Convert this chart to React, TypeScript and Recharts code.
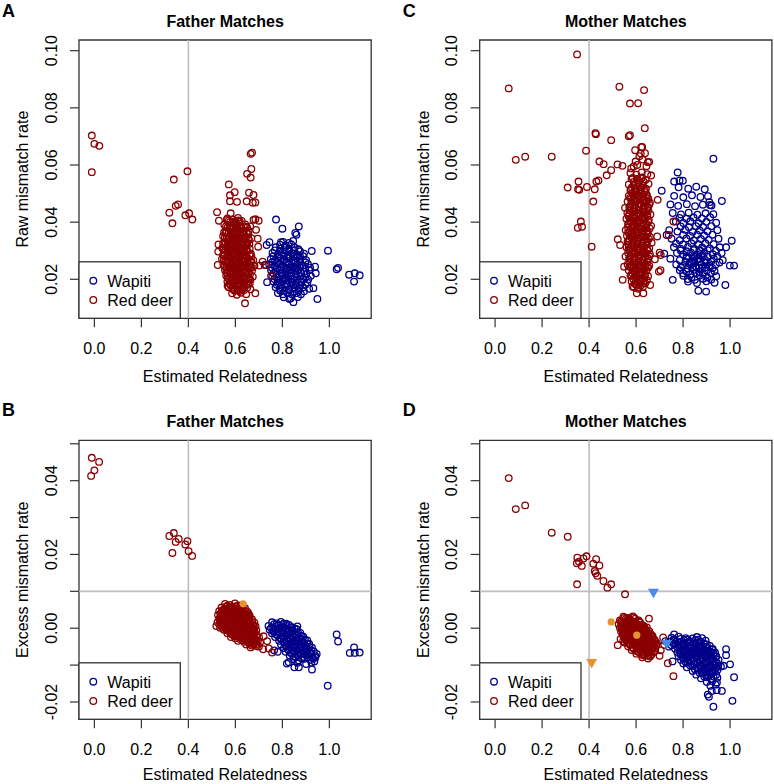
import type { ReactNode } from "react";
import {
  ReferenceArea,
  ReferenceLine,
  Scatter,
  ScatterChart,
  XAxis,
  YAxis,
} from "recharts";

type Pt = [number, number];

const SPECIES = ["Wapiti", "Red deer"];
const COLORS = { wapiti: "#00008B", redDeer: "#8B0000", orange: "#E8912F", blue: "#4A8CEB" };
const X_TICKS = [0, 0.2, 0.4, 0.6, 0.8, 1.0];
const RAW_TICKS = [0.02, 0.04, 0.06, 0.08, 0.1];
const EXCESS_TICKS = [-0.02, -0.01, 0, 0.01, 0.02, 0.03, 0.04, 0.05];
const EXCESS_LABELLED = [-0.02, 0, 0.02, 0.04];
const REF_X = 0.4;
const REF_Y = 0.01;

// A: father matches, raw mismatch rate
const fatherRawWapiti: Pt[] = [
  [0.773, 0.0409], [0.8, 0.0377], [0.87, 0.0385], [0.855, 0.0362], [0.86, 0.0356], [0.925, 0.0299],
  [0.994, 0.03], [1.031, 0.0235], [1.037, 0.024], [1.084, 0.0216], [1.108, 0.0221], [1.129, 0.0214],
  [1.105, 0.0192], [0.949, 0.0131], [0.847, 0.012], [0.83, 0.0131], [0.733, 0.032], [0.745, 0.033],
  [0.794, 0.033], [0.939, 0.0244], [0.942, 0.0221], [0.932, 0.0169], [0.875, 0.028], [0.735, 0.019], [0.725, 0.025],
  [0.803, 0.0331], [0.828, 0.0327], [0.846, 0.0334],
  [0.772, 0.0312], [0.791, 0.0307], [0.811, 0.0313], [0.829, 0.0306], [0.852, 0.0311], [0.868, 0.0305],
  [0.758, 0.0292], [0.781, 0.0287], [0.799, 0.0293], [0.822, 0.0286], [0.841, 0.0291], [0.861, 0.0287], [0.892, 0.029],
  [0.751, 0.0271], [0.769, 0.0266], [0.792, 0.0273], [0.809, 0.0268], [0.831, 0.0274], [0.848, 0.0265], [0.872, 0.0271], [0.901, 0.0267],
  [0.744, 0.0252], [0.766, 0.0247], [0.786, 0.0253], [0.804, 0.0246], [0.826, 0.0251], [0.846, 0.0245], [0.864, 0.0252], [0.887, 0.0248], [0.909, 0.0253],
  [0.752, 0.0232], [0.771, 0.0227], [0.789, 0.0233], [0.812, 0.0226], [0.829, 0.0231], [0.851, 0.0228], [0.869, 0.0234], [0.892, 0.0227], [0.914, 0.0232],
  [0.757, 0.0211], [0.774, 0.0207], [0.797, 0.0213], [0.814, 0.0206], [0.836, 0.0212], [0.853, 0.0207], [0.877, 0.0211], [0.898, 0.0206], [0.921, 0.0212],
  [0.762, 0.0192], [0.781, 0.0187], [0.801, 0.0193], [0.819, 0.0186], [0.841, 0.0191], [0.859, 0.0187], [0.882, 0.0192], [0.906, 0.0188],
  [0.771, 0.0172], [0.789, 0.0167], [0.812, 0.0173], [0.829, 0.0166], [0.851, 0.0171], [0.871, 0.0168], [0.888, 0.0172], [0.914, 0.0167],
  [0.781, 0.0152], [0.802, 0.0148], [0.821, 0.0153], [0.842, 0.0147], [0.861, 0.0152], [0.879, 0.0148],
  [0.806, 0.0137], [0.836, 0.0134], [0.866, 0.0138],
  [0.82, 0.024], [0.835, 0.022], [0.81, 0.02], [0.845, 0.018], [0.825, 0.028], [0.86, 0.024],
];
const fatherRawWapitiDense: Pt[] = [
  [0.79, 0.0321], [0.815, 0.0318], [0.838, 0.0322],
  [0.768, 0.0301], [0.79, 0.0298], [0.81, 0.0302], [0.83, 0.0297], [0.85, 0.0301], [0.875, 0.0298],
  [0.762, 0.0281], [0.785, 0.0278], [0.805, 0.0282], [0.828, 0.0277], [0.846, 0.0281], [0.866, 0.0278], [0.888, 0.0281],
  [0.758, 0.0261], [0.778, 0.0258], [0.798, 0.0262], [0.818, 0.0257], [0.838, 0.0261], [0.856, 0.0258], [0.876, 0.0262], [0.898, 0.0259],
  [0.755, 0.0241], [0.776, 0.0238], [0.795, 0.0242], [0.815, 0.0237], [0.836, 0.0241], [0.855, 0.0238], [0.875, 0.0242], [0.898, 0.0239], [0.918, 0.0241],
  [0.762, 0.0221], [0.78, 0.0218], [0.8, 0.0222], [0.82, 0.0217], [0.84, 0.0221], [0.86, 0.0218], [0.88, 0.0222], [0.902, 0.0219],
  [0.766, 0.0201], [0.786, 0.0198], [0.806, 0.0202], [0.826, 0.0197], [0.846, 0.0201], [0.866, 0.0198], [0.888, 0.0202], [0.91, 0.0199],
  [0.776, 0.0181], [0.796, 0.0178], [0.816, 0.0182], [0.836, 0.0177], [0.856, 0.0181], [0.876, 0.0178], [0.898, 0.0181],
  [0.79, 0.0161], [0.81, 0.0158], [0.83, 0.0162], [0.85, 0.0157], [0.87, 0.0161], [0.892, 0.0158],
];

const fatherRawRedDeer: Pt[] = [
  [-0.011, 0.0703], [0.0, 0.0674], [0.021, 0.0667], [-0.011, 0.0575],
  [0.396, 0.0578], [0.338, 0.0549], [0.346, 0.0457], [0.356, 0.0462], [0.319, 0.0433], [0.332, 0.0396],
  [0.387, 0.0424], [0.403, 0.0431], [0.417, 0.0409],
  [0.665, 0.0639], [0.671, 0.0643], [0.668, 0.0586], [0.65, 0.0569], [0.665, 0.0556], [0.572, 0.0532],
  [0.597, 0.0505], [0.577, 0.0494], [0.577, 0.0473], [0.607, 0.0471], [0.658, 0.0503], [0.677, 0.0495],
  [0.648, 0.0473], [0.674, 0.0468], [0.685, 0.0469], [0.522, 0.0435], [0.58, 0.0431], [0.677, 0.0408],
  [0.685, 0.041], [0.699, 0.0405], [0.53, 0.0405], [0.563, 0.0408], [0.688, 0.0373], [0.695, 0.0342],
  [0.697, 0.0314], [0.528, 0.0322], [0.527, 0.0297], [0.525, 0.025], [0.685, 0.0151], [0.641, 0.0116],
  [0.567, 0.0177], [0.702, 0.0248], [0.731, 0.025], [0.752, 0.0212], [0.716, 0.0262],
  [0.566, 0.0413], [0.589, 0.0409], [0.611, 0.0415], [0.627, 0.0404],
  [0.553, 0.0391], [0.576, 0.0386], [0.601, 0.0394], [0.619, 0.0388], [0.642, 0.0392], [0.663, 0.0385],
  [0.561, 0.0368], [0.582, 0.0373], [0.594, 0.0366], [0.616, 0.0371], [0.633, 0.0364], [0.657, 0.0369],
  [0.548, 0.0351], [0.571, 0.0347], [0.589, 0.0354], [0.606, 0.0345], [0.624, 0.0352], [0.646, 0.0348], [0.668, 0.0344],
  [0.556, 0.0331], [0.574, 0.0326], [0.597, 0.0334], [0.611, 0.0328], [0.631, 0.0333], [0.651, 0.0327],
  [0.544, 0.0309], [0.566, 0.0314], [0.581, 0.0306], [0.602, 0.0311], [0.619, 0.0305], [0.641, 0.0312], [0.661, 0.0307],
  [0.551, 0.0292], [0.569, 0.0287], [0.591, 0.0294], [0.604, 0.0286], [0.626, 0.0291], [0.644, 0.0285], [0.666, 0.0289],
  [0.543, 0.0271], [0.561, 0.0266], [0.579, 0.0273], [0.601, 0.0268], [0.614, 0.0274], [0.636, 0.0265], [0.654, 0.0272], [0.676, 0.0267],
  [0.549, 0.0251], [0.571, 0.0246], [0.586, 0.0253], [0.604, 0.0248], [0.621, 0.0254], [0.639, 0.0245], [0.659, 0.0251], [0.681, 0.0247],
  [0.556, 0.0232], [0.574, 0.0227], [0.596, 0.0234], [0.609, 0.0228], [0.631, 0.0233], [0.649, 0.0226], [0.671, 0.0231],
  [0.561, 0.0212], [0.579, 0.0207], [0.601, 0.0213], [0.616, 0.0206], [0.634, 0.0211], [0.656, 0.0205], [0.674, 0.0209],
  [0.566, 0.0192], [0.586, 0.0187], [0.599, 0.0193], [0.621, 0.0186], [0.639, 0.0191], [0.661, 0.0185],
  [0.571, 0.0172], [0.591, 0.0167], [0.611, 0.0173], [0.629, 0.0166], [0.651, 0.0171], [0.664, 0.0165],
  [0.586, 0.0151], [0.606, 0.0146], [0.624, 0.0153], [0.646, 0.0148],
  [0.58, 0.03], [0.61, 0.022], [0.595, 0.028], [0.62, 0.03], [0.585, 0.024], [0.6, 0.036], [0.63, 0.025],
  [0.575, 0.032], [0.64, 0.02], [0.61, 0.018],
];
const fatherRawRedDeerDense: Pt[] = [
  [0.578, 0.0401], [0.6, 0.0398], [0.618, 0.0402],
  [0.566, 0.0381], [0.588, 0.0378], [0.608, 0.0382], [0.628, 0.0377], [0.65, 0.0381],
  [0.558, 0.0361], [0.58, 0.0358], [0.598, 0.0362], [0.615, 0.0357], [0.636, 0.0361], [0.655, 0.0358],
  [0.562, 0.0341], [0.582, 0.0338], [0.6, 0.0342], [0.618, 0.0337], [0.638, 0.0341], [0.658, 0.0338],
  [0.553, 0.0321], [0.572, 0.0318], [0.59, 0.0322], [0.61, 0.0317], [0.628, 0.0321], [0.648, 0.0318],
  [0.556, 0.0301], [0.575, 0.0298], [0.593, 0.0302], [0.612, 0.0297], [0.632, 0.0301], [0.652, 0.0298],
  [0.553, 0.0281], [0.572, 0.0278], [0.59, 0.0282], [0.61, 0.0277], [0.628, 0.0281], [0.648, 0.0278], [0.668, 0.0281],
  [0.556, 0.0261], [0.574, 0.0258], [0.594, 0.0262], [0.611, 0.0257], [0.63, 0.0261], [0.65, 0.0258], [0.668, 0.0262],
  [0.562, 0.0241], [0.578, 0.0238], [0.596, 0.0242], [0.614, 0.0237], [0.632, 0.0241], [0.652, 0.0238], [0.67, 0.0241],
  [0.566, 0.0221], [0.586, 0.0218], [0.604, 0.0222], [0.622, 0.0217], [0.642, 0.0221], [0.662, 0.0218],
  [0.572, 0.0201], [0.59, 0.0198], [0.608, 0.0202], [0.626, 0.0197], [0.646, 0.0201], [0.664, 0.0198],
  [0.578, 0.0181], [0.596, 0.0178], [0.616, 0.0182], [0.634, 0.0177], [0.654, 0.0181],
  [0.596, 0.0161], [0.616, 0.0158], [0.636, 0.0162],
];
const fatherRawRedDeerCore: Pt[] = [
  [0.572, 0.0405], [0.594, 0.0402], [0.612, 0.0406],
  [0.56, 0.0385], [0.582, 0.0382], [0.604, 0.0386], [0.624, 0.0381], [0.645, 0.0384],
  [0.552, 0.0365], [0.572, 0.0362], [0.59, 0.0366], [0.608, 0.0361], [0.628, 0.0365], [0.648, 0.0362],
  [0.555, 0.0345], [0.576, 0.0342], [0.594, 0.0346], [0.614, 0.0341], [0.634, 0.0345], [0.654, 0.0342],
  [0.548, 0.0325], [0.566, 0.0322], [0.584, 0.0326], [0.604, 0.0321], [0.622, 0.0325], [0.642, 0.0322], [0.66, 0.0324],
  [0.55, 0.0305], [0.57, 0.0302], [0.588, 0.0306], [0.606, 0.0301], [0.626, 0.0305], [0.646, 0.0302],
  [0.548, 0.0285], [0.566, 0.0282], [0.584, 0.0286], [0.602, 0.0281], [0.622, 0.0285], [0.64, 0.0282], [0.66, 0.0285],
  [0.55, 0.0265], [0.568, 0.0262], [0.588, 0.0266], [0.606, 0.0261], [0.624, 0.0265], [0.644, 0.0262], [0.662, 0.0265],
  [0.556, 0.0245], [0.574, 0.0242], [0.592, 0.0246], [0.61, 0.0241], [0.628, 0.0245], [0.646, 0.0242], [0.664, 0.0245],
  [0.562, 0.0225], [0.58, 0.0222], [0.6, 0.0226], [0.618, 0.0221], [0.636, 0.0225], [0.656, 0.0222],
  [0.568, 0.0205], [0.586, 0.0202], [0.604, 0.0206], [0.622, 0.0201], [0.64, 0.0205], [0.658, 0.0202],
  [0.576, 0.0185], [0.594, 0.0182], [0.612, 0.0186], [0.63, 0.0181], [0.648, 0.0185],
  [0.59, 0.0165], [0.61, 0.0162], [0.628, 0.0166],
];

// C: mother matches, raw mismatch rate
const motherRawWapiti: Pt[] = [
  [0.929, 0.0622], [0.98, 0.018], [0.865, 0.016], [0.898, 0.0157], [0.777, 0.0574], [0.762, 0.0542],
  [0.785, 0.0546], [0.799, 0.0545], [0.892, 0.0515], [0.965, 0.0474], [0.912, 0.047], [0.914, 0.046],
  [1.007, 0.0335], [0.999, 0.0248], [1.017, 0.0248], [0.983, 0.0312], [0.756, 0.0198], [0.709, 0.051],
  [0.73, 0.0355], [0.72, 0.029],
  [0.781, 0.0522], [0.822, 0.0517], [0.856, 0.0524],
  [0.762, 0.0492], [0.801, 0.0487], [0.838, 0.0494], [0.874, 0.0488], [0.906, 0.0491],
  [0.746, 0.0462], [0.779, 0.0457], [0.816, 0.0463], [0.851, 0.0456], [0.884, 0.0461], [0.921, 0.0458],
  [0.756, 0.0432], [0.791, 0.0427], [0.824, 0.0433], [0.861, 0.0426], [0.896, 0.0431], [0.929, 0.0428],
  [0.769, 0.0402], [0.801, 0.0397], [0.831, 0.0403], [0.866, 0.0396], [0.899, 0.0401], [0.941, 0.0398],
  [0.741, 0.0372], [0.776, 0.0367], [0.809, 0.0373], [0.841, 0.0366], [0.871, 0.0371], [0.904, 0.0368], [0.946, 0.0372],
  [0.751, 0.0342], [0.786, 0.0337], [0.814, 0.0343], [0.846, 0.0336], [0.876, 0.0341], [0.909, 0.0338], [0.951, 0.0342],
  [0.761, 0.0312], [0.789, 0.0307], [0.821, 0.0313], [0.849, 0.0306], [0.881, 0.0311], [0.914, 0.0308], [0.956, 0.0312],
  [0.774, 0.0292], [0.801, 0.0287], [0.834, 0.0293], [0.861, 0.0286], [0.889, 0.0291], [0.926, 0.0288], [0.964, 0.0292],
  [0.746, 0.0272], [0.786, 0.0267], [0.814, 0.0273], [0.841, 0.0266], [0.866, 0.0271], [0.894, 0.0268], [0.931, 0.0272], [0.969, 0.0267],
  [0.771, 0.0252], [0.799, 0.0247], [0.831, 0.0253], [0.854, 0.0246], [0.879, 0.0251], [0.911, 0.0248], [0.939, 0.0252],
  [0.786, 0.0232], [0.814, 0.0227], [0.846, 0.0233], [0.869, 0.0226], [0.901, 0.0231], [0.934, 0.0228],
  [0.801, 0.0212], [0.836, 0.0207], [0.871, 0.0213], [0.904, 0.0206], [0.941, 0.0211],
  [0.821, 0.0192], [0.859, 0.0187], [0.899, 0.0193], [0.934, 0.0188],
  [0.845, 0.028], [0.871, 0.0262], [0.856, 0.0242], [0.884, 0.0279], [0.901, 0.0259], [0.869, 0.0301],
  [0.836, 0.0259], [0.881, 0.0239], [0.861, 0.0272],
];
const motherRawWapitiDense: Pt[] = [
  [0.785, 0.0415], [0.815, 0.0412], [0.845, 0.0416], [0.88, 0.0413], [0.915, 0.0417],
  [0.79, 0.0385], [0.825, 0.0382], [0.855, 0.0386], [0.885, 0.0383], [0.92, 0.0386],
  [0.8, 0.0355], [0.83, 0.0352], [0.86, 0.0356], [0.89, 0.0353], [0.925, 0.0356],
  [0.77, 0.0325], [0.8, 0.0322], [0.835, 0.0326], [0.865, 0.0323], [0.895, 0.0326], [0.93, 0.0323],
  [0.79, 0.0301], [0.815, 0.0298], [0.845, 0.0302], [0.875, 0.0299], [0.905, 0.0302], [0.94, 0.0299],
  [0.815, 0.0281], [0.85, 0.0278], [0.876, 0.0282], [0.905, 0.0279], [0.945, 0.0281],
  [0.81, 0.0261], [0.828, 0.0258], [0.848, 0.0262], [0.89, 0.0259], [0.92, 0.0262], [0.955, 0.0259],
  [0.79, 0.0241], [0.82, 0.0238], [0.84, 0.0242], [0.868, 0.0239], [0.895, 0.0242], [0.925, 0.0239],
  [0.8, 0.0221], [0.83, 0.0218], [0.858, 0.0222], [0.885, 0.0219], [0.918, 0.0222],
  [0.82, 0.0201], [0.85, 0.0198], [0.885, 0.0202], [0.92, 0.0199],
];

const motherRawRedDeer: Pt[] = [
  [0.349, 0.0987], [0.058, 0.0868], [0.088, 0.0618], [0.128, 0.0629], [0.241, 0.0629], [0.387, 0.065],
  [0.309, 0.0521], [0.355, 0.0542], [0.353, 0.0515], [0.358, 0.0513], [0.391, 0.0523], [0.365, 0.0402],
  [0.37, 0.0384], [0.352, 0.038], [0.411, 0.0314], [0.427, 0.0711], [0.429, 0.0708], [0.444, 0.0612],
  [0.462, 0.0603], [0.431, 0.0542], [0.44, 0.0546], [0.424, 0.0515], [0.418, 0.0472], [0.494, 0.0687],
  [0.475, 0.0564], [0.494, 0.0582], [0.529, 0.0874], [0.634, 0.0862], [0.574, 0.0815], [0.609, 0.0816],
  [0.637, 0.0729], [0.569, 0.0701], [0.574, 0.0704], [0.521, 0.0602], [0.542, 0.0597], [0.596, 0.0652],
  [0.626, 0.0663], [0.638, 0.0641], [0.664, 0.0563], [0.645, 0.0473], [0.692, 0.0478], [0.522, 0.034],
  [0.532, 0.032], [0.549, 0.0244], [0.543, 0.0198], [0.7, 0.0293], [0.705, 0.0285], [0.697, 0.0227],
  [0.704, 0.0232], [0.759, 0.0402], [0.739, 0.0355], [0.603, 0.0151], [0.631, 0.0151], [0.585, 0.0175],
  [0.66, 0.018], [0.69, 0.035], [0.68, 0.027], [0.555, 0.028], [0.553, 0.045], [0.62, 0.064], [0.65, 0.061], [0.605, 0.06],
  [0.576, 0.0572], [0.601, 0.0566], [0.624, 0.0574], [0.648, 0.0568],
  [0.581, 0.0551], [0.604, 0.0547], [0.621, 0.0554], [0.641, 0.0548],
  [0.569, 0.0532], [0.591, 0.0527], [0.611, 0.0533], [0.629, 0.0528], [0.653, 0.0534],
  [0.576, 0.0512], [0.594, 0.0507], [0.616, 0.0513], [0.636, 0.0506],
  [0.569, 0.0492], [0.589, 0.0487], [0.609, 0.0493], [0.626, 0.0486], [0.646, 0.0491],
  [0.564, 0.0472], [0.581, 0.0467], [0.601, 0.0473], [0.619, 0.0466], [0.641, 0.0471], [0.659, 0.0468],
  [0.571, 0.0452], [0.589, 0.0447], [0.611, 0.0453], [0.629, 0.0446], [0.651, 0.0451],
  [0.563, 0.0432], [0.586, 0.0427], [0.604, 0.0433], [0.621, 0.0426], [0.639, 0.0431], [0.661, 0.0427],
  [0.559, 0.0412], [0.576, 0.0407], [0.594, 0.0413], [0.614, 0.0406], [0.636, 0.0411], [0.654, 0.0408],
  [0.566, 0.0392], [0.584, 0.0387], [0.601, 0.0393], [0.621, 0.0386], [0.639, 0.0391], [0.664, 0.0387],
  [0.556, 0.0372], [0.574, 0.0367], [0.596, 0.0373], [0.609, 0.0366], [0.631, 0.0371], [0.649, 0.0368],
  [0.561, 0.0352], [0.579, 0.0347], [0.601, 0.0353], [0.619, 0.0346], [0.641, 0.0351], [0.659, 0.0348],
  [0.564, 0.0332], [0.586, 0.0327], [0.604, 0.0333], [0.626, 0.0326], [0.644, 0.0331], [0.666, 0.0328],
  [0.559, 0.0312], [0.576, 0.0307], [0.594, 0.0313], [0.616, 0.0306], [0.634, 0.0311], [0.656, 0.0308],
  [0.566, 0.0292], [0.584, 0.0287], [0.606, 0.0293], [0.619, 0.0286], [0.641, 0.0291], [0.659, 0.0288],
  [0.571, 0.0272], [0.589, 0.0267], [0.611, 0.0273], [0.629, 0.0266], [0.651, 0.0271],
  [0.564, 0.0252], [0.581, 0.0247], [0.599, 0.0253], [0.621, 0.0246], [0.639, 0.0251], [0.656, 0.0248],
  [0.569, 0.0232], [0.591, 0.0227], [0.609, 0.0233], [0.626, 0.0226], [0.644, 0.0231],
  [0.576, 0.0212], [0.594, 0.0207], [0.616, 0.0213], [0.634, 0.0206], [0.651, 0.0211],
  [0.581, 0.0192], [0.599, 0.0187], [0.621, 0.0193], [0.639, 0.0186],
  [0.591, 0.0172], [0.609, 0.0167], [0.629, 0.0173],
  [0.579, 0.0588], [0.598, 0.0612], [0.628, 0.0619], [0.644, 0.0596], [0.656, 0.0611], [0.614, 0.0631],
  [0.622, 0.0662], [0.59, 0.0595],
];
const motherRawRedDeerDense: Pt[] = [
  [0.59, 0.0541], [0.612, 0.0538], [0.632, 0.0542],
  [0.582, 0.0521], [0.602, 0.0518], [0.622, 0.0522], [0.642, 0.0517],
  [0.584, 0.0501], [0.604, 0.0498], [0.624, 0.0502], [0.645, 0.0497],
  [0.578, 0.0481], [0.598, 0.0478], [0.616, 0.0482], [0.634, 0.0477], [0.652, 0.0481],
  [0.578, 0.0461], [0.596, 0.0458], [0.618, 0.0462], [0.638, 0.0457], [0.656, 0.0461],
  [0.574, 0.0441], [0.594, 0.0438], [0.614, 0.0442], [0.632, 0.0437], [0.652, 0.0441],
  [0.568, 0.0421], [0.586, 0.0418], [0.604, 0.0422], [0.626, 0.0417], [0.646, 0.0421],
  [0.574, 0.0401], [0.592, 0.0398], [0.61, 0.0402], [0.63, 0.0397], [0.652, 0.0401],
  [0.566, 0.0381], [0.586, 0.0378], [0.604, 0.0382], [0.62, 0.0377], [0.642, 0.0381], [0.658, 0.0378],
  [0.57, 0.0361], [0.59, 0.0358], [0.61, 0.0362], [0.63, 0.0357], [0.65, 0.0361],
  [0.572, 0.0341], [0.592, 0.0338], [0.612, 0.0342], [0.634, 0.0337], [0.654, 0.0341],
  [0.568, 0.0321], [0.586, 0.0318], [0.606, 0.0322], [0.626, 0.0317], [0.646, 0.0321],
  [0.572, 0.0301], [0.594, 0.0298], [0.612, 0.0302], [0.632, 0.0297], [0.65, 0.0301],
  [0.576, 0.0281], [0.598, 0.0278], [0.618, 0.0282], [0.638, 0.0277], [0.656, 0.0281],
  [0.574, 0.0261], [0.592, 0.0258], [0.61, 0.0262], [0.63, 0.0257], [0.648, 0.0261],
  [0.578, 0.0241], [0.598, 0.0238], [0.616, 0.0242], [0.634, 0.0237], [0.652, 0.0241],
  [0.584, 0.0221], [0.602, 0.0218], [0.62, 0.0222], [0.638, 0.0217],
  [0.588, 0.0201], [0.608, 0.0198], [0.628, 0.0202], [0.646, 0.0197],
  [0.6, 0.0181], [0.62, 0.0178],
];
const motherRawRedDeerCore: Pt[] = [
  [0.586, 0.0555], [0.606, 0.0552], [0.626, 0.0556],
  [0.578, 0.0515], [0.598, 0.0512], [0.618, 0.0516], [0.638, 0.0511],
  [0.574, 0.0485], [0.594, 0.0482], [0.612, 0.0486], [0.632, 0.0481], [0.65, 0.0484],
  [0.574, 0.0455], [0.592, 0.0452], [0.612, 0.0456], [0.632, 0.0451], [0.65, 0.0454],
  [0.57, 0.0425], [0.59, 0.0422], [0.61, 0.0426], [0.63, 0.0421], [0.648, 0.0424],
  [0.568, 0.0395], [0.588, 0.0392], [0.606, 0.0396], [0.626, 0.0391], [0.646, 0.0394],
  [0.566, 0.0365], [0.584, 0.0362], [0.604, 0.0366], [0.624, 0.0361], [0.644, 0.0364],
  [0.568, 0.0335], [0.588, 0.0332], [0.608, 0.0336], [0.628, 0.0331], [0.648, 0.0334],
  [0.568, 0.0305], [0.588, 0.0302], [0.608, 0.0306], [0.628, 0.0301], [0.646, 0.0304],
  [0.572, 0.0275], [0.592, 0.0272], [0.612, 0.0276], [0.632, 0.0271], [0.65, 0.0274],
  [0.572, 0.0245], [0.592, 0.0242], [0.612, 0.0246], [0.63, 0.0241], [0.646, 0.0244],
  [0.58, 0.0215], [0.6, 0.0212], [0.62, 0.0216], [0.638, 0.0211],
  [0.594, 0.0185], [0.614, 0.0182], [0.632, 0.0186],
];

// B: father matches, excess mismatch rate
const fatherExcessWapiti: Pt[] = [
  [1.031, -0.0017], [1.037, -0.0036], [1.105, -0.0052], [1.087, -0.0067], [1.108, -0.0067], [1.129, -0.0066],
  [0.993, -0.0156], [0.926, -0.0112], [0.851, -0.0106], [0.87, -0.0106], [0.827, -0.0092], [0.946, -0.007],
  [0.936, -0.009], [0.94, -0.008], [0.78, -0.0064], [0.765, -0.006],
  [0.756, 0.0016], [0.776, 0.0013], [0.794, 0.0017], [0.816, 0.0012],
  [0.741, 0.0006], [0.761, 0.0003], [0.779, 0.0007], [0.801, 0.0002], [0.819, 0.0006], [0.841, 0.0003], [0.864, 0.0005],
  [0.746, -0.0004], [0.764, -0.0007], [0.786, -0.0003], [0.804, -0.0008], [0.826, -0.0004], [0.844, -0.0007], [0.861, -0.0003],
  [0.756, -0.0014], [0.774, -0.0017], [0.796, -0.0013], [0.814, -0.0018], [0.836, -0.0014], [0.854, -0.0017], [0.876, -0.0013],
  [0.769, -0.0024], [0.791, -0.0027], [0.809, -0.0023], [0.831, -0.0028], [0.849, -0.0024], [0.871, -0.0027], [0.889, -0.0023],
  [0.786, -0.0034], [0.804, -0.0037], [0.826, -0.0033], [0.844, -0.0038], [0.866, -0.0034], [0.884, -0.0037], [0.906, -0.0033],
  [0.794, -0.0044], [0.816, -0.0047], [0.834, -0.0043], [0.856, -0.0048], [0.874, -0.0044], [0.896, -0.0047], [0.914, -0.0043],
  [0.806, -0.0054], [0.824, -0.0057], [0.846, -0.0053], [0.864, -0.0058], [0.886, -0.0054], [0.904, -0.0057], [0.926, -0.0053],
  [0.814, -0.0064], [0.836, -0.0067], [0.854, -0.0063], [0.876, -0.0068], [0.894, -0.0064], [0.916, -0.0067], [0.934, -0.0063],
  [0.831, -0.0074], [0.849, -0.0077], [0.871, -0.0073], [0.889, -0.0078], [0.911, -0.0074], [0.941, -0.0076],
  [0.846, -0.0084], [0.869, -0.0087], [0.894, -0.0083], [0.921, -0.0086],
  [0.819, -0.0096], [0.864, -0.0094], [0.901, -0.0097], [0.924, -0.0094],
];
const fatherExcessWapitiDense: Pt[] = [
  [0.765, 0.0011], [0.785, 0.0009], [0.805, 0.0012], [0.828, 0.0009],
  [0.752, 0.0001], [0.772, -0.0002], [0.795, 0.0001], [0.815, -0.0001], [0.835, 0.0002], [0.852, -0.0001],
  [0.762, -0.0009], [0.78, -0.0012], [0.8, -0.0009], [0.82, -0.0011], [0.84, -0.0008], [0.866, -0.0011],
  [0.78, -0.0019], [0.8, -0.0022], [0.822, -0.0019], [0.842, -0.0021], [0.862, -0.0018], [0.882, -0.0021],
  [0.796, -0.0029], [0.816, -0.0032], [0.836, -0.0029], [0.856, -0.0031], [0.876, -0.0028], [0.896, -0.0031],
  [0.81, -0.0039], [0.826, -0.0042], [0.846, -0.0039], [0.866, -0.0041], [0.886, -0.0038], [0.906, -0.0041],
  [0.816, -0.0049], [0.836, -0.0052], [0.856, -0.0049], [0.876, -0.0051], [0.896, -0.0048], [0.916, -0.0051],
  [0.826, -0.0059], [0.846, -0.0062], [0.866, -0.0059], [0.886, -0.0061], [0.906, -0.0058], [0.924, -0.0061],
  [0.842, -0.0069], [0.862, -0.0072], [0.882, -0.0069], [0.9, -0.0071], [0.922, -0.0068],
  [0.858, -0.0079], [0.882, -0.0082], [0.906, -0.0079], [0.93, -0.0081],
];

const fatherExcessRedDeer: Pt[] = [
  [-0.011, 0.0462], [0.02, 0.0451], [0.0, 0.0428], [-0.014, 0.0413], [0.319, 0.025], [0.338, 0.0258],
  [0.346, 0.0234], [0.359, 0.0242], [0.332, 0.0204], [0.387, 0.0227], [0.396, 0.0236], [0.401, 0.0209], [0.416, 0.0196],
  [0.7, -0.005], [0.718, -0.0057], [0.742, -0.0055], [0.756, -0.0066], [0.688, -0.0048], [0.705, -0.0038],
  [0.665, -0.0052], [0.72, -0.0022], [0.735, -0.0035],
  [0.556, 0.0066], [0.577, 0.0063], [0.598, 0.0067], [0.621, 0.0062],
  [0.541, 0.0056], [0.562, 0.0053], [0.581, 0.0057], [0.601, 0.0052], [0.619, 0.0056], [0.641, 0.0054],
  [0.531, 0.0046], [0.549, 0.0043], [0.571, 0.0047], [0.589, 0.0042], [0.611, 0.0046], [0.629, 0.0043], [0.651, 0.0045],
  [0.526, 0.0036], [0.546, 0.0033], [0.564, 0.0037], [0.586, 0.0032], [0.604, 0.0036], [0.626, 0.0033], [0.644, 0.0037], [0.661, 0.0034],
  [0.531, 0.0026], [0.551, 0.0023], [0.569, 0.0027], [0.591, 0.0022], [0.609, 0.0026], [0.631, 0.0023], [0.649, 0.0027], [0.671, 0.0024],
  [0.524, 0.0016], [0.546, 0.0013], [0.566, 0.0017], [0.584, 0.0012], [0.606, 0.0016], [0.624, 0.0013], [0.646, 0.0017], [0.664, 0.0014], [0.681, 0.0015],
  [0.519, 0.0006], [0.544, 0.0003], [0.566, 0.0007], [0.586, 0.0002], [0.604, 0.0006], [0.626, 0.0003], [0.644, 0.0007], [0.666, 0.0004], [0.686, 0.0005],
  [0.551, -0.0004], [0.569, -0.0007], [0.591, -0.0003], [0.609, -0.0008], [0.631, -0.0004], [0.649, -0.0007], [0.671, -0.0003], [0.689, -0.0006],
  [0.566, -0.0014], [0.586, -0.0017], [0.604, -0.0013], [0.626, -0.0018], [0.644, -0.0014], [0.666, -0.0017], [0.684, -0.0013],
  [0.581, -0.0024], [0.599, -0.0027], [0.621, -0.0023], [0.639, -0.0028], [0.661, -0.0024], [0.679, -0.0027], [0.701, -0.0025],
  [0.611, -0.0034], [0.636, -0.0037], [0.654, -0.0033], [0.676, -0.0036], [0.696, -0.0034],
  [0.646, -0.0044], [0.669, -0.0047], [0.691, -0.0043],
];
const fatherExcessRedDeerDense: Pt[] = [
  [0.566, 0.0061], [0.588, 0.0058], [0.61, 0.0061], [0.63, 0.0058],
  [0.55, 0.0051], [0.572, 0.0049], [0.592, 0.0051], [0.61, 0.0048], [0.63, 0.0051],
  [0.538, 0.0041], [0.558, 0.0038], [0.578, 0.0041], [0.598, 0.0039], [0.618, 0.0041], [0.638, 0.0038], [0.655, 0.0041],
  [0.536, 0.0031], [0.556, 0.0028], [0.576, 0.0031], [0.596, 0.0029], [0.616, 0.0031], [0.636, 0.0028], [0.656, 0.0031],
  [0.536, 0.0021], [0.558, 0.0018], [0.578, 0.0021], [0.598, 0.0019], [0.62, 0.0021], [0.64, 0.0018], [0.66, 0.0021],
  [0.532, 0.0011], [0.554, 0.0008], [0.574, 0.0011], [0.594, 0.0009], [0.616, 0.0011], [0.636, 0.0008], [0.656, 0.0011], [0.674, 0.0009],
  [0.535, 0.0001], [0.558, -0.0002], [0.578, 0.0001], [0.598, -0.0001], [0.618, 0.0001], [0.638, -0.0002], [0.656, 0.0001], [0.676, -0.0001],
  [0.576, -0.0009], [0.596, -0.0012], [0.616, -0.0009], [0.636, -0.0011], [0.656, -0.0009], [0.676, -0.0011],
  [0.592, -0.0019], [0.612, -0.0022], [0.632, -0.0019], [0.652, -0.0021], [0.672, -0.0019], [0.69, -0.0021],
  [0.62, -0.0029], [0.644, -0.0032], [0.664, -0.0029], [0.686, -0.0031],
  [0.656, -0.0039], [0.68, -0.0041],
];
const fatherExcessRedDeerCore: Pt[] = [
  [0.56, 0.0058], [0.58, 0.0056], [0.6, 0.0059], [0.62, 0.0057],
  [0.545, 0.0048], [0.565, 0.0046], [0.585, 0.0049], [0.605, 0.0047], [0.625, 0.0048], [0.642, 0.0047],
  [0.54, 0.0038], [0.56, 0.0036], [0.58, 0.0039], [0.6, 0.0037], [0.62, 0.0038], [0.64, 0.0036], [0.655, 0.0036],
  [0.54, 0.0028], [0.56, 0.0026], [0.58, 0.0029], [0.6, 0.0027], [0.62, 0.0028], [0.64, 0.0026], [0.66, 0.0028],
  [0.535, 0.0018], [0.555, 0.0016], [0.575, 0.0019], [0.595, 0.0017], [0.615, 0.0018], [0.635, 0.0016], [0.655, 0.0018], [0.672, 0.0017],
  [0.54, 0.0008], [0.56, 0.0006], [0.58, 0.0009], [0.6, 0.0007], [0.62, 0.0008], [0.64, 0.0006], [0.66, 0.0008], [0.678, 0.0007],
  [0.562, -0.0002], [0.582, -0.0004], [0.602, -0.0001], [0.622, -0.0003], [0.642, -0.0002], [0.662, -0.0004], [0.68, -0.0002],
  [0.58, -0.0012], [0.6, -0.0014], [0.62, -0.0011], [0.64, -0.0013], [0.66, -0.0012], [0.678, -0.0014],
  [0.6, -0.0022], [0.62, -0.0024], [0.64, -0.0021], [0.66, -0.0023], [0.68, -0.0022],
  [0.63, -0.0032], [0.65, -0.0034], [0.67, -0.0031], [0.688, -0.0032],
  [0.66, -0.0042], [0.678, -0.0044],
];

const fatherExcessHighlight: Pt[] = [[0.633, 0.0066]];

// D: mother matches, excess mismatch rate
const motherExcessWapiti: Pt[] = [
  [0.929, -0.0213], [1.01, -0.0197], [1.017, -0.0133], [0.983, -0.0057], [0.983, -0.0073], [1.0, -0.0098],
  [0.972, -0.0102], [0.905, -0.018], [0.91, -0.0186], [0.922, -0.017], [0.943, -0.0168], [0.965, -0.017],
  [0.762, -0.0017], [0.725, -0.0035], [0.74, -0.005], [0.755, -0.009],
  [0.751, -0.0026], [0.781, -0.0023], [0.811, -0.0027], [0.859, -0.0024], [0.881, -0.0027],
  [0.746, -0.0036], [0.764, -0.0033], [0.786, -0.0037], [0.804, -0.0032], [0.829, -0.0036], [0.851, -0.0033], [0.874, -0.0037], [0.896, -0.0034],
  [0.751, -0.0046], [0.769, -0.0043], [0.791, -0.0047], [0.809, -0.0042], [0.836, -0.0046], [0.854, -0.0043], [0.879, -0.0047], [0.901, -0.0044],
  [0.766, -0.0056], [0.784, -0.0053], [0.806, -0.0057], [0.824, -0.0052], [0.846, -0.0056], [0.864, -0.0053], [0.886, -0.0057], [0.904, -0.0054], [0.926, -0.0056],
  [0.776, -0.0066], [0.794, -0.0063], [0.816, -0.0067], [0.834, -0.0062], [0.856, -0.0066], [0.874, -0.0063], [0.896, -0.0067], [0.914, -0.0064], [0.936, -0.0066],
  [0.781, -0.0076], [0.799, -0.0073], [0.821, -0.0077], [0.839, -0.0072], [0.861, -0.0076], [0.879, -0.0073], [0.901, -0.0077], [0.919, -0.0074], [0.941, -0.0076],
  [0.791, -0.0086], [0.809, -0.0083], [0.831, -0.0087], [0.849, -0.0082], [0.871, -0.0086], [0.889, -0.0083], [0.911, -0.0087], [0.929, -0.0084], [0.951, -0.0086],
  [0.801, -0.0096], [0.819, -0.0093], [0.846, -0.0097], [0.864, -0.0092], [0.886, -0.0096], [0.904, -0.0093], [0.926, -0.0097], [0.944, -0.0094],
  [0.816, -0.0106], [0.839, -0.0103], [0.861, -0.0107], [0.879, -0.0102], [0.901, -0.0106], [0.919, -0.0103], [0.941, -0.0107], [0.961, -0.0104],
  [0.841, -0.0116], [0.864, -0.0113], [0.886, -0.0117], [0.904, -0.0112], [0.926, -0.0116], [0.946, -0.0113],
  [0.856, -0.0126], [0.881, -0.0123], [0.899, -0.0127], [0.921, -0.0122], [0.941, -0.0126],
  [0.876, -0.0136], [0.901, -0.0133], [0.919, -0.0137], [0.946, -0.0134],
  [0.901, -0.0146], [0.924, -0.0143], [0.944, -0.0147],
  [0.916, -0.0156], [0.939, -0.0153],
];
const motherExcessWapitiDense: Pt[] = [
  [0.76, -0.0031], [0.79, -0.0029], [0.82, -0.0031], [0.84, -0.0028], [0.865, -0.0031],
  [0.758, -0.0041], [0.78, -0.0039], [0.8, -0.0041], [0.82, -0.0038], [0.845, -0.0041], [0.865, -0.0039], [0.888, -0.0041],
  [0.776, -0.0051], [0.796, -0.0049], [0.816, -0.0051], [0.835, -0.0048], [0.856, -0.0051], [0.876, -0.0049], [0.896, -0.0051], [0.914, -0.0048],
  [0.785, -0.0061], [0.805, -0.0059], [0.825, -0.0061], [0.845, -0.0058], [0.865, -0.0061], [0.885, -0.0059], [0.905, -0.0061], [0.925, -0.0058],
  [0.79, -0.0071], [0.81, -0.0069], [0.83, -0.0071], [0.85, -0.0068], [0.87, -0.0071], [0.89, -0.0069], [0.91, -0.0071], [0.93, -0.0068],
  [0.8, -0.0081], [0.82, -0.0079], [0.84, -0.0081], [0.86, -0.0078], [0.88, -0.0081], [0.9, -0.0079], [0.92, -0.0081], [0.94, -0.0078],
  [0.81, -0.0091], [0.835, -0.0089], [0.855, -0.0091], [0.875, -0.0088], [0.895, -0.0091], [0.915, -0.0089], [0.935, -0.0091],
  [0.83, -0.0101], [0.85, -0.0099], [0.87, -0.0101], [0.89, -0.0098], [0.91, -0.0101], [0.93, -0.0099], [0.95, -0.0101],
  [0.85, -0.0111], [0.875, -0.0109], [0.895, -0.0111], [0.915, -0.0108], [0.935, -0.0111],
  [0.87, -0.0121], [0.89, -0.0119], [0.91, -0.0121], [0.93, -0.0118],
  [0.89, -0.0131], [0.91, -0.0129], [0.93, -0.0131],
];

const motherExcessRedDeer: Pt[] = [
  [0.058, 0.0407], [0.088, 0.0323], [0.128, 0.0333], [0.241, 0.0259], [0.309, 0.0248], [0.35, 0.0191],
  [0.357, 0.018], [0.369, 0.0169], [0.348, 0.0176], [0.389, 0.0195], [0.376, 0.0189], [0.349, 0.0119],
  [0.43, 0.0187], [0.418, 0.0175], [0.444, 0.017], [0.424, 0.0155], [0.428, 0.0149], [0.435, 0.0142],
  [0.461, 0.0128], [0.494, 0.0119], [0.478, 0.011], [0.553, 0.0092], [0.522, -0.0046], [0.735, -0.0095],
  [0.759, -0.013], [0.655, 0.0026], [0.72, -0.0045], [0.705, -0.006], [0.7, -0.0075], [0.715, -0.0025],
  [0.546, 0.0031], [0.566, 0.0028], [0.586, 0.0032],
  [0.531, 0.0021], [0.551, 0.0018], [0.569, 0.0022], [0.591, 0.0017], [0.611, 0.0021],
  [0.526, 0.0011], [0.546, 0.0008], [0.564, 0.0012], [0.586, 0.0007], [0.604, 0.0011], [0.626, 0.0008],
  [0.531, 0.0001], [0.549, -0.0002], [0.571, 0.0002], [0.589, -0.0003], [0.611, 0.0001], [0.629, -0.0002], [0.646, 0.0002],
  [0.536, -0.0009], [0.554, -0.0012], [0.576, -0.0008], [0.594, -0.0013], [0.616, -0.0009], [0.634, -0.0012], [0.656, -0.0008],
  [0.544, -0.0019], [0.566, -0.0022], [0.584, -0.0018], [0.606, -0.0023], [0.624, -0.0019], [0.646, -0.0022], [0.664, -0.0018],
  [0.534, -0.0029], [0.556, -0.0032], [0.574, -0.0028], [0.596, -0.0033], [0.614, -0.0029], [0.636, -0.0032], [0.654, -0.0028], [0.676, -0.0031],
  [0.551, -0.0039], [0.569, -0.0042], [0.591, -0.0038], [0.609, -0.0043], [0.631, -0.0039], [0.649, -0.0042], [0.671, -0.0038], [0.689, -0.0041],
  [0.566, -0.0049], [0.584, -0.0052], [0.606, -0.0048], [0.624, -0.0053], [0.646, -0.0049], [0.664, -0.0052], [0.686, -0.0048],
  [0.581, -0.0059], [0.601, -0.0062], [0.619, -0.0058], [0.641, -0.0063], [0.659, -0.0059], [0.681, -0.0062],
  [0.601, -0.0069], [0.624, -0.0072], [0.646, -0.0068], [0.666, -0.0071],
  [0.626, -0.0079], [0.651, -0.0082],
];
const motherExcessRedDeerDense: Pt[] = [
  [0.556, 0.0025], [0.576, 0.0023], [0.596, 0.0026],
  [0.54, 0.0015], [0.56, 0.0013], [0.58, 0.0016], [0.6, 0.0013], [0.618, 0.0015],
  [0.536, 0.0005], [0.556, 0.0003], [0.576, 0.0006], [0.596, 0.0003], [0.616, 0.0005], [0.636, 0.0003],
  [0.54, -0.0005], [0.56, -0.0007], [0.58, -0.0004], [0.6, -0.0007], [0.62, -0.0005], [0.64, -0.0007],
  [0.545, -0.0015], [0.565, -0.0017], [0.585, -0.0014], [0.605, -0.0017], [0.625, -0.0015], [0.645, -0.0017], [0.66, -0.0014],
  [0.55, -0.0025], [0.57, -0.0027], [0.59, -0.0024], [0.61, -0.0027], [0.63, -0.0025], [0.65, -0.0027], [0.668, -0.0024],
  [0.545, -0.0035], [0.565, -0.0037], [0.585, -0.0034], [0.605, -0.0037], [0.625, -0.0035], [0.645, -0.0037], [0.665, -0.0034], [0.682, -0.0036],
  [0.576, -0.0045], [0.596, -0.0047], [0.616, -0.0044], [0.636, -0.0047], [0.656, -0.0045], [0.676, -0.0047],
  [0.59, -0.0055], [0.61, -0.0057], [0.63, -0.0054], [0.65, -0.0057], [0.67, -0.0055],
  [0.612, -0.0065], [0.632, -0.0067], [0.654, -0.0064], [0.672, -0.0066],
  [0.638, -0.0075], [0.66, -0.0077],
];
const motherExcessRedDeerCore: Pt[] = [
  [0.55, 0.0028], [0.57, 0.0026], [0.59, 0.0029],
  [0.536, 0.0018], [0.556, 0.0016], [0.576, 0.0019], [0.596, 0.0016], [0.612, 0.0018],
  [0.54, 0.0008], [0.56, 0.0006], [0.58, 0.0009], [0.6, 0.0006], [0.62, 0.0008], [0.632, 0.0006],
  [0.545, -0.0002], [0.565, -0.0004], [0.585, -0.0001], [0.605, -0.0004], [0.625, -0.0002], [0.642, -0.0004],
  [0.55, -0.0012], [0.57, -0.0014], [0.59, -0.0011], [0.61, -0.0014], [0.63, -0.0012], [0.65, -0.0014],
  [0.555, -0.0022], [0.575, -0.0024], [0.595, -0.0021], [0.615, -0.0024], [0.635, -0.0022], [0.655, -0.0024], [0.67, -0.0021],
  [0.56, -0.0032], [0.58, -0.0034], [0.6, -0.0031], [0.62, -0.0034], [0.64, -0.0032], [0.66, -0.0034], [0.678, -0.0031],
  [0.57, -0.0042], [0.59, -0.0044], [0.61, -0.0041], [0.63, -0.0044], [0.65, -0.0042], [0.67, -0.0044], [0.685, -0.0042],
  [0.585, -0.0052], [0.605, -0.0054], [0.625, -0.0051], [0.645, -0.0054], [0.665, -0.0052], [0.68, -0.0054],
  [0.605, -0.0062], [0.625, -0.0064], [0.645, -0.0061], [0.665, -0.0063],
  [0.63, -0.0072], [0.652, -0.0074],
];

const motherExcessOrangeDots: Pt[] = [[0.494, 0.0017], [0.603, -0.0019]];
const motherExcessOrangeTriangles: Pt[] = [[0.411, -0.0096]];
const motherExcessBlueTriangles: Pt[] = [[0.674, 0.0095], [0.73, -0.0044]];

const FONT = "'Liberation Sans', Arial, Helvetica, sans-serif";
const W = 387;
const H = 392;
const Y_AXIS_W = 60;
const X_AXIS_H = 40;
const X_DOMAIN: [number, number] = [-0.0655, 1.178];
const RAW_DOMAIN: [number, number] = [0.00635, 0.10374];
const EXCESS_DOMAIN: [number, number] = [-0.0247, 0.05095];
const FRAME = "#333";

const toPoints = (pts: Pt[]) => pts.map(([x, y]) => ({ x, y }));

const ring = (color: string) => (p: any) => (
  <circle cx={p.cx} cy={p.cy} r={3.3} fill="none" stroke={color} strokeWidth={1.3} />
);
const dot = (color: string) => (p: any) => <circle cx={p.cx} cy={p.cy} r={3.6} fill={color} />;
const triangle = (color: string) => (p: any) => (
  <path d={`M${p.cx - 5.5},${p.cy - 4.5}L${p.cx + 5.5},${p.cy - 4.5}L${p.cx},${p.cy + 5}Z`} fill={color} />
);

function makeYTick(labelled: number[]) {
  return (props: any) => {
    const { x, y, payload } = props;
    const show = labelled.some((v) => Math.abs(v - payload.value) < 1e-9);
    if (!show) return <g />;
    return (
      <text
        x={x}
        y={y}
        transform={`rotate(-90 ${x} ${y})`}
        textAnchor="middle"
        dy="0.36em"
        fontSize={16}
        fontFamily={FONT}
        fill="#000"
      >
        {payload.value.toFixed(2)}
      </text>
    );
  };
}

interface PanelProps {
  letter: string;
  title: string;
  yTitle: string;
  left: number;
  top: number;
  margin: { top: number; right: number; bottom: number; left: number };
  yDomain: [number, number];
  yTicks: number[];
  yLabelled: number[];
  wapiti: Pt[];
  redDeer: Pt[];
  hLine?: number;
  titleBaseline: number;
  letterBaseline: number;
  xTitleOffset: number;
  children?: ReactNode;
}

function Panel(p: PanelProps) {
  const plotLeft = p.margin.left + Y_AXIS_W;
  const plotRight = W - p.margin.right;
  const plotBottom = H - p.margin.bottom - X_AXIS_H;
  const plotTop = p.margin.top;
  const cx = (plotLeft + plotRight) / 2;
  const cy = (plotTop + plotBottom) / 2;
  const legendTop = plotBottom - 56.5;

  return (
    <div style={{ position: "absolute", left: p.left, top: p.top, width: W, height: H }}>
      <ScatterChart width={W} height={H} margin={p.margin}>
        <XAxis
          type="number"
          dataKey="x"
          domain={X_DOMAIN}
          ticks={X_TICKS}
          interval={0}
          allowDataOverflow
          height={X_AXIS_H}
          axisLine={false}
          tickLine={{ stroke: FRAME, strokeWidth: 1.2 }}
          tickSize={9}
          tickMargin={15}
          tickFormatter={(v: number) => v.toFixed(1)}
          tick={{ fill: "#000", fontSize: 16, fontFamily: FONT }}
        />
        <YAxis
          type="number"
          dataKey="y"
          domain={p.yDomain}
          ticks={p.yTicks}
          interval={0}
          allowDataOverflow
          width={Y_AXIS_W}
          axisLine={false}
          tickLine={{ stroke: FRAME, strokeWidth: 1.2 }}
          tickSize={9}
          tickMargin={19}
          tick={makeYTick(p.yLabelled)}
        />
        <ReferenceLine x={REF_X} stroke="#BEBEBE" strokeWidth={1.6} />
        {p.hLine !== undefined && <ReferenceLine y={p.hLine} stroke="#BEBEBE" strokeWidth={1.6} />}
        <Scatter
          name={SPECIES[0]}
          data={toPoints(p.wapiti)}
          shape={ring(COLORS.wapiti)}
          isAnimationActive={false}
        />
        <Scatter
          name={SPECIES[1]}
          data={toPoints(p.redDeer)}
          shape={ring(COLORS.redDeer)}
          isAnimationActive={false}
        />
        {p.children}
        <ReferenceArea
          x1={X_DOMAIN[0]}
          x2={X_DOMAIN[1]}
          y1={p.yDomain[0]}
          y2={p.yDomain[1]}
          fill="none"
          fillOpacity={0}
          stroke={FRAME}
          strokeWidth={1.3}
          ifOverflow="visible"
        />
      </ScatterChart>
      <svg
        width={W}
        height={H}
        style={{ position: "absolute", left: 0, top: 0, pointerEvents: "none" }}
        fontFamily={FONT}
      >
        <text x={plotLeft - 77} y={p.letterBaseline} fontSize={18} fontWeight="bold" fill="#000">
          {p.letter}
        </text>
        <text x={cx} y={p.titleBaseline} textAnchor="middle" fontSize={16} fontWeight="bold" fill="#000">
          {p.title}
        </text>
        <text x={cx} y={plotBottom + p.xTitleOffset} textAnchor="middle" fontSize={16} fill="#000">
          Estimated Relatedness
        </text>
        <text
          transform={`translate(${plotLeft - 50.7},${cy}) rotate(-90)`}
          textAnchor="middle"
          fontSize={16}
          fill="#000"
        >
          {p.yTitle}
        </text>
        <rect
          x={plotLeft}
          y={legendTop}
          width={101.3}
          height={plotBottom - legendTop}
          fill="#fff"
          stroke={FRAME}
          strokeWidth={1.3}
        />
        {SPECIES.map((s, i) => {
          const sy = plotBottom - 37.6 + i * 19.3;
          return (
            <g key={s}>
              <circle
                cx={plotLeft + 14.3}
                cy={sy}
                r={3.3}
                fill="none"
                stroke={i === 0 ? COLORS.wapiti : COLORS.redDeer}
                strokeWidth={1.3}
              />
              <text x={plotLeft + 28.3} y={sy + 6.3} fontSize={16} fill="#000">
                {s}
              </text>
            </g>
          );
        })}
      </svg>
    </div>
  );
}

const LEFT_MARGIN = { top: 40, right: 15.8, bottom: 33.7, left: 19 };
const RIGHT_MARGIN = { top: 40, right: 2.1, bottom: 33.7, left: 32.7 };
const LEFT_MARGIN_LOW = { top: 48.3, right: 15.8, bottom: 24.7, left: 19 };
const RIGHT_MARGIN_LOW = { top: 48.3, right: 2.1, bottom: 24.7, left: 32.7 };

export default function App() {
  return (
    <div style={{ position: "absolute", left: 0, top: 0, width: 774, height: 784, background: "#fff" }}>
      <Panel
        letter="A"
        title="Father Matches"
        yTitle="Raw mismatch rate"
        left={0}
        top={0}
        margin={LEFT_MARGIN}
        yDomain={RAW_DOMAIN}
        yTicks={RAW_TICKS}
        yLabelled={RAW_TICKS}
        wapiti={[...fatherRawWapiti, ...fatherRawWapitiDense]}
        redDeer={[...fatherRawRedDeer, ...fatherRawRedDeerDense, ...fatherRawRedDeerCore]}
        titleBaseline={26.7}
        letterBaseline={16.7}
        xTitleOffset={63.5}
      />
      <Panel
        letter="C"
        title="Mother Matches"
        yTitle="Raw mismatch rate"
        left={387}
        top={0}
        margin={RIGHT_MARGIN}
        yDomain={RAW_DOMAIN}
        yTicks={RAW_TICKS}
        yLabelled={RAW_TICKS}
        wapiti={[...motherRawWapiti, ...motherRawWapitiDense]}
        redDeer={[...motherRawRedDeer, ...motherRawRedDeerDense, ...motherRawRedDeerCore]}
        titleBaseline={26.7}
        letterBaseline={16.7}
        xTitleOffset={63.5}
      />
      <Panel
        letter="B"
        title="Father Matches"
        yTitle="Excess mismatch rate"
        left={0}
        top={392}
        margin={LEFT_MARGIN_LOW}
        yDomain={EXCESS_DOMAIN}
        yTicks={EXCESS_TICKS}
        yLabelled={EXCESS_LABELLED}
        wapiti={[...fatherExcessWapiti, ...fatherExcessWapitiDense]}
        redDeer={[...fatherExcessRedDeer, ...fatherExcessRedDeerDense, ...fatherExcessRedDeerCore]}
        hLine={REF_Y}
        titleBaseline={35}
        letterBaseline={24}
        xTitleOffset={60.5}
      >
        <Scatter
          data={toPoints(fatherExcessHighlight)}
          shape={dot(COLORS.orange)}
          isAnimationActive={false}
        />
      </Panel>
      <Panel
        letter="D"
        title="Mother Matches"
        yTitle="Excess mismatch rate"
        left={387}
        top={392}
        margin={RIGHT_MARGIN_LOW}
        yDomain={EXCESS_DOMAIN}
        yTicks={EXCESS_TICKS}
        yLabelled={EXCESS_LABELLED}
        wapiti={[...motherExcessWapiti, ...motherExcessWapitiDense]}
        redDeer={[...motherExcessRedDeer, ...motherExcessRedDeerDense, ...motherExcessRedDeerCore]}
        hLine={REF_Y}
        titleBaseline={35}
        letterBaseline={24}
        xTitleOffset={60.5}
      >
        <Scatter
          data={toPoints(motherExcessOrangeDots)}
          shape={dot(COLORS.orange)}
          isAnimationActive={false}
        />
        <Scatter
          data={toPoints(motherExcessOrangeTriangles)}
          shape={triangle(COLORS.orange)}
          isAnimationActive={false}
        />
        <Scatter
          data={toPoints(motherExcessBlueTriangles)}
          shape={triangle(COLORS.blue)}
          isAnimationActive={false}
        />
      </Panel>
    </div>
  );
}
